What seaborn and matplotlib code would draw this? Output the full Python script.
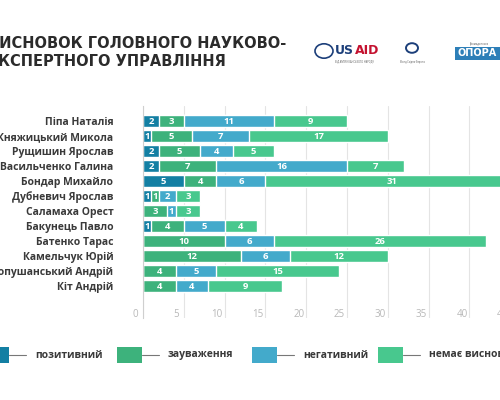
import numpy as np
import pandas as pd
import matplotlib
matplotlib.use("Agg")
import matplotlib.pyplot as plt
from matplotlib.patches import Rectangle, Circle
from matplotlib.transforms import ScaledTranslation
import seaborn as sns

# Data
names = ["Піпа Наталія", "Княжицький Микола", "Рущишин Ярослав", "Васильченко Галина",
         "Бондар Михайло", "Дубневич Ярослав", "Саламаха Орест", "Бакунець Павло",
         "Батенко Тарас", "Камельчук Юрій", "Лопушанський Андрій", "Кіт Андрій"]
positive = [2, 1, 2, 2, 5, 1, 0, 1, 0, 0, 0, 0]
remarks = [3, 5, 5, 7, 4, 1, 3, 4, 10, 12, 4, 4]
negative = [11, 7, 4, 16, 6, 2, 1, 5, 6, 6, 5, 4]
no_conclusion = [9, 17, 5, 7, 31, 3, 3, 4, 26, 12, 15, 9]

categories = ["позитивний", "зауваження", "негативний", "немає висновку"]
colors = ["#137fa3", "#3db27c", "#43aacb", "#48c88e"]
x_ticks = [0, 5, 10, 15, 20, 25, 30, 35, 40, 45, 50]

sns.set_style("white")
plt.rcParams["font.family"] = ["Open Sans", "DejaVu Sans"]

df = pd.DataFrame({"name": names, "позитивний": positive, "зауваження": remarks,
                   "негативний": negative, "немає висновку": no_conclusion})
cum = df[categories].cumsum(axis=1)

W, H = 500, 400
fig = plt.figure(figsize=(5, 4), dpi=100)
# axes: x=0 at 143px, 8.16 px per unit, top 106px, bottom 318px
x0, ppu = 143, 8.16
ax = fig.add_axes([x0 / W, (H - 318) / H, 50 * ppu / W, (318 - 106) / H])

# stacked bars by overlaying cumulative totals, largest first
for cat, col in zip(categories[::-1], colors[::-1]):
    sns.barplot(data=cum.assign(name=df["name"]), x=cat, y="name", orient="h",
                color=col, saturation=1, width=0.86, ax=ax, errorbar=None)

# segment labels
for i, row in df.iterrows():
    left = 0
    for cat in categories:
        v = row[cat]
        if v > 0:
            ax.text(left + v / 2, i, str(v), ha="center", va="center", color="white",
                    fontsize=6.8, fontweight="bold")
        left += v

ax.set_xlim(0, 50)
ax.set_ylim(13.13, -1.0)
ax.set_xticks(x_ticks)
ax.set_xticklabels([str(t) for t in x_ticks])
ax.grid(axis="x", color="#e4e4e4", linewidth=0.8)
ax.set_axisbelow(True)
for s in ["top", "right", "bottom"]:
    ax.spines[s].set_visible(False)
ax.spines["left"].set_color("#cfcfcf")
ax.spines["left"].set_linewidth(0.8)
ax.set_xlabel("")
ax.set_ylabel("")
ax.tick_params(axis="x", length=0, labelsize=7, labelcolor="#b8b8b8")
ax.tick_params(axis="y", length=14.4, width=0.8, color="#8a8a8a", pad=7,
               labelsize=7.5, labelcolor="#3a3a3a")
for lab in ax.get_yticklabels():
    lab.set_fontweight("bold")
for lab in ax.get_xticklabels():
    lab.set_transform(lab.get_transform() + ScaledTranslation(-0.075, 0.14, fig.dpi_scale_trans))

# title (cropped on the left like the reference)
fig.text(-12 / W, 1 - 43 / H, "ВИСНОВОК ГОЛОВНОГО НАУКОВО-", ha="left", va="center",
         fontsize=10.5, fontweight="bold", color="#2b2b2b", family=["DejaVu Sans"])
fig.text(-12 / W, 1 - 62 / H, "ЕКСПЕРТНОГО УПРАВЛІННЯ", ha="left", va="center",
         fontsize=10.5, fontweight="bold", color="#2b2b2b", family=["DejaVu Sans"])

# logos, simplified
fig.patches.append(Circle((324 / W, 1 - 51 / H), 9 / W, transform=fig.transFigure,
                          facecolor="white", edgecolor="#1c3f7a", linewidth=1.2))
fig.text(335 / W, 1 - 51 / H, "US", ha="left", va="center", fontsize=9,
         fontweight="bold", color="#1c3f7a", family=["DejaVu Sans"])
fig.text(355 / W, 1 - 51 / H, "AID", ha="left", va="center", fontsize=9,
         fontweight="bold", color="#c41230", family=["DejaVu Sans"])
fig.text(335 / W, 1 - 61 / H, "ВІД АМЕРИКАНСЬКОГО НАРОДУ", ha="left", va="center",
         fontsize=1.8, color="#555555")
fig.patches.append(Circle((412 / W, 1 - 48 / H), 6 / W, transform=fig.transFigure,
                          facecolor="none", edgecolor="#1c3f7a", linewidth=1.4))
fig.text(412 / W, 1 - 62 / H, "Фонд Східна Європа", ha="center", va="center",
         fontsize=1.8, color="#555555")
fig.patches.append(Rectangle((455 / W, 1 - 60 / H), 45 / W, 13 / H, transform=fig.transFigure,
                             facecolor="#2d7fb8", edgecolor="none"))
fig.text(457 / W, 1 - 53.5 / H, "ОПОРА", ha="left", va="center", fontsize=7,
         fontweight="bold", color="white", family=["DejaVu Sans"])
fig.text(470 / W, 1 - 44 / H, "Громадянська", ha="left", va="center",
         fontsize=2, color="#555555")

# legend, drawn by hand
leg_x = [-16, 117, 252, 378]
for lx, cat, col in zip(leg_x, categories, colors):
    fig.patches.append(Rectangle((lx / W, 1 - 363 / H), 25 / W, 16 / H,
                                 transform=fig.transFigure, facecolor=col, edgecolor="none"))
    fig.lines.append(plt.Line2D([(lx + 25) / W, (lx + 42) / W], [1 - 355 / H, 1 - 355 / H],
                                transform=fig.transFigure, color="#777777", linewidth=0.8))
    fig.text((lx + 51) / W, 1 - 355 / H, cat, ha="left", va="center", fontsize=7.5,
             fontweight="bold", color="#3a3a3a")

fig.savefig("out.png", dpi=100)
